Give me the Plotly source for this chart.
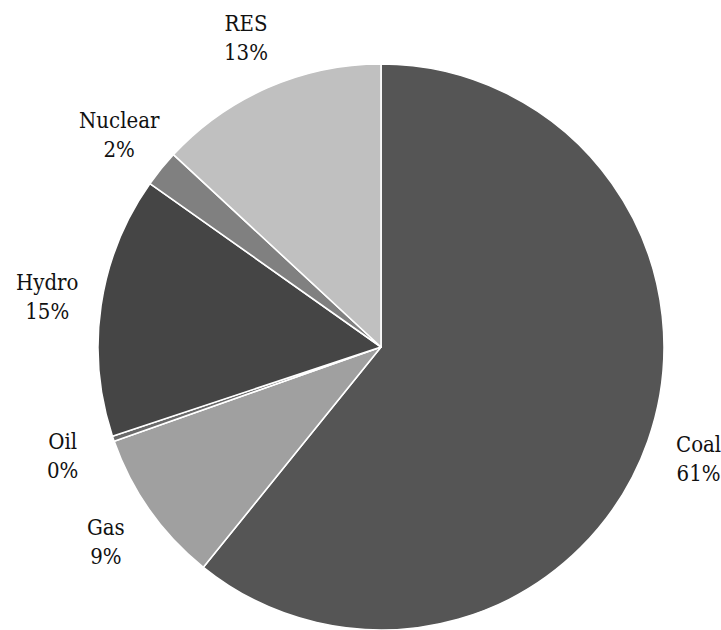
import math
import plotly.graph_objects as go

labels = ["Coal", "Gas", "Oil", "Hydro", "Nuclear", "RES"]
values = [60.8, 8.8, 0.3, 14.9, 2.1, 13.1]
colors = ["#555555", "#a0a0a0", "#6a6a6a", "#454545", "#808080", "#c0c0c0"]

W, H = 721, 630
ml, mr, mt, mb = 98, 57, 64, 0
FONT = "DejaVu Serif Condensed"

fig = go.Figure(go.Pie(
    labels=labels, values=values, sort=False, direction="clockwise", rotation=0,
    marker=dict(colors=colors, line=dict(color="white", width=1.6)),
    textinfo="none", hoverinfo="label+percent", showlegend=False,
    domain=dict(x=[0, 1], y=[0, 1]),
))

total = sum(values)
cum = 0.0
annotations = []
for lab, v in zip(labels, values):
    mid = (cum + v / 2) / total * 2 * math.pi
    cum += v
    r = 0.5 * 1.19
    x = 0.5 + r * math.sin(mid)
    y = 0.5 + r * math.cos(mid)
    pct = round(v / total * 100)
    annotations.append(dict(
        x=x, y=y, xref="paper", yref="paper", xanchor="center", yanchor="middle",
        text=f"{lab}<br>{pct}%", showarrow=False,
        font=dict(family=FONT, size=22, color="#111111"),
    ))

fig.update_layout(
    width=W, height=H,
    margin=dict(l=ml, r=mr, t=mt, b=mb),
    paper_bgcolor="white", plot_bgcolor="white",
    font=dict(family=FONT),
    annotations=annotations,
)

fig.write_html(
    "out.html",
    config={"displayModeBar": False},
    post_script="document.body.style.margin='0';document.body.style.overflow='hidden';",
)
